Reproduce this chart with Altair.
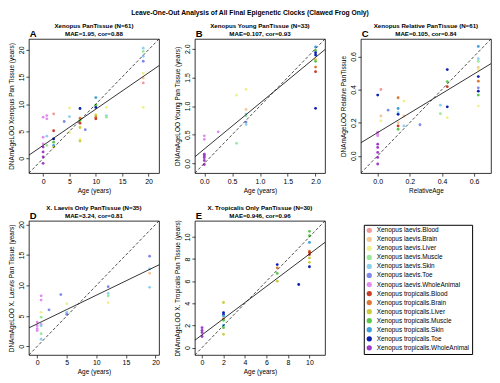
import altair as alt
import pandas as pd

FONT = "Liberation Sans"

GROUPS = [
    "Xenopus laevis.Blood", "Xenopus laevis.Brain", "Xenopus laevis.Liver",
    "Xenopus laevis.Muscle", "Xenopus laevis.Skin", "Xenopus laevis.Toe",
    "Xenopus laevis.WholeAnimal", "Xenopus tropicalis.Blood",
    "Xenopus tropicalis.Brain", "Xenopus tropicalis.Liver",
    "Xenopus tropicalis.Muscle", "Xenopus tropicalis.Skin",
    "Xenopus tropicalis.Toe", "Xenopus tropicalis.WholeAnimal",
]
COLORS = [
    "#F29A9A", "#F5C896", "#F0F08C", "#9BE89B", "#8CD2F0", "#8088EC",
    "#E08CF0", "#C83C28", "#DC7832", "#CDCD3C", "#5AC84B", "#3CA0DC",
    "#0A1EB4", "#A03CC8",
]

# Panel A: Xenopus PanTissue
A_age = [0, 0, 0, 0, 0, 0, 0, 0.7, 0.7, 0.7, 0.7, 2, 2, 2, 2, 2, 2, 4, 5, 5, 5,
         7, 7, 7, 7, 7, 7, 7, 8, 10, 10, 10, 10, 10, 10, 12, 12, 12,
         19, 19, 19, 19, 19, 19, 19, 19]
A_pred = [7.6, 3.9, 2.7, 2.1, 1.2, 0.3, -0.9, 7.9, 7.3, 4.1, 2.4, 8.2, 5.1, 3.6, 3.0, 2.4, 2.1,
          6.8, 9.3, 7.7, 4.8, 9.2, 7.4, 7.0, 6.5, 5.7, 3.5, 3.2, 5.3,
          11.2, 9.8, 9.4, 8.0, 7.6, 7.3, 9.4, 7.9, 7.6,
          20.3, 19.7, 18.8, 17.9, 15.7, 14.8, 13.9, 9.4]
A_grp = [6, 6, 6, 13, 13, 13, 13, 6, 6, 4, 3, 0, 7, 12, 10, 11, 9, 5, 2, 4, 2,
         12, 8, 10, 7, 9, 2, 9, 5, 11, 10, 12, 9, 8, 7, 2, 4, 3,
         4, 3, 4, 5, 2, 1, 0, 2]

# Panel B: Xenopus Young PanTissue
B_age = [0, 0, 0, 0, 0, 0, 0, 0.25, 0.58, 0.58, 0.75, 0.75, 0.75, 0.75, 0.75, 0.75,
         2, 2, 2, 2, 2, 2, 2, 2, 2]
B_pred = [0.48, 0.42, 0.16, 0.13, 0.10, 0.05, -0.02, 0.55, 1.19, 0.35,
          1.29, 0.94, 0.86, 0.83, 0.72, 0.68,
          2.03, 1.97, 1.93, 1.89, 1.81, 1.78, 1.68, 1.60, 0.96]
B_grp = [6, 6, 13, 13, 13, 13, 13, 6, 2, 3, 2, 1, 4, 3, 5, 4,
         11, 10, 12, 12, 9, 10, 8, 7, 12]

# Panel C: Xenopus Relative PanTissue
C_age = [0, 0, 0, 0, 0, 0, 0, 0, 0, 0.02, 0.02, 0.02, 0.065,
         0.127, 0.127, 0.127, 0.127, 0.127, 0.127, 0.127, 0.163, 0.163, 0.163,
         0.263, 0.39, 0.39, 0.433, 0.433, 0.433, 0.433, 0.433,
         0.626, 0.626, 0.626, 0.626, 0.626, 0.626, 0.626, 0.626, 0.626, 0.626, 0.626]
C_pred = [0.366, 0.142, 0.13, 0.12, 0.07, 0.05, 0.02, -0.01, -0.05, 0.40, 0.24, 0.21, 0.275,
          0.35, 0.285, 0.26, 0.25, 0.20, 0.18, 0.16, 0.33, 0.24, 0.18,
          0.187, 0.305, 0.254, 0.52, 0.447, 0.417, 0.295, 0.23,
          0.66, 0.586, 0.57, 0.533, 0.52, 0.478, 0.45, 0.41, 0.39, 0.366, 0.30]
C_grp = [12, 6, 6, 6, 13, 13, 13, 13, 13, 0, 1, 2, 5,
         8, 11, 4, 12, 1, 7, 10, 2, 1, 4,
         5, 4, 3, 12, 10, 7, 12, 2,
         11, 4, 3, 1, 2, 12, 8, 5, 12, 10, 2]

# Panel D: X. Laevis Only PanTissue
D_age = [0, 0, 0, 0, 0.67, 0.67, 0.67, 0.67, 0.67, 0.67, 0.67, 0.67, 2, 4, 5, 5, 5,
         12, 12, 12, 12, 19, 19, 19, 19]
D_pred = [4.0, 3.4, 2.9, 2.6, 8.3, 7.6, 5.6, 4.8, 3.6, 3.4, 2.1, 1.2, 6.0, 8.5, 7.0, 5.6, 5.3,
          9.8, 8.7, 8.3, 7.2, 14.8, 12.7, 12.0, 9.7]
D_grp = [6, 6, 6, 6, 6, 6, 2, 3, 6, 4, 3, 4, 5, 5, 2, 4, 5,
         5, 4, 3, 2, 5, 4, 1, 4]

# Panel E: X. Tropicalis Only PanTissue
E_age = [0, 0, 0, 0, 2, 2, 2, 2, 2, 2, 2, 2, 2, 7, 7, 7, 7, 9,
         10, 10, 10, 10, 10, 10, 10, 10, 10]
E_pred = [1.8, 1.56, 1.36, 1.0, 4.07, 3.16, 3.0, 2.86, 2.6, 2.47, 2.0, 1.8, 1.2,
          7.5, 7.2, 6.7, 6.0, 5.7,
          10.5, 10.1, 9.5, 8.7, 8.6, 8.4, 8.1, 7.7, 7.3]
E_grp = [13, 13, 13, 13, 9, 12, 12, 11, 8, 10, 11, 10, 9,
         12, 8, 10, 9, 12,
         10, 10, 11, 8, 7, 7, 9, 9, 12]

# axis domains (equal x/y limits), fitted lines (intercept, slope)
DOMAINS = {"A": [-2.7, 22.0], "B": [-0.17, 2.17], "C": [-0.105, 0.705],
           "D": [-1.4, 20.6], "E": [-0.67, 11.45]}
FITS = {"A": [2.4, 0.668], "B": [0.25, 0.8], "C": [0.14, 0.59],
        "D": [3.7, 0.47], "E": [1.15, 0.73]}
TICKS = {"A": [0, 5, 10, 15, 20], "B": [0.0, 0.5, 1.0, 1.5, 2.0],
         "C": [0.0, 0.2, 0.4, 0.6], "D": [0, 5, 10, 15, 20],
         "E": [0, 2, 4, 6, 8, 10]}
FORMATS = {"A": "d", "B": ".1f", "C": ".1f", "D": "d", "E": "d"}
TITLES = {
    "A": ["Xenopus PanTissue (N=61)", "MAE=1.95, cor=0.88"],
    "B": ["Xenopus Young PanTissue (N=33)", "MAE=0.107, cor=0.93"],
    "C": ["Xenopus Relative PanTissue (N=61)", "MAE=0.105, cor=0.84"],
    "D": ["X. Laevis Only PanTissue (N=35)", "MAE=3.24, cor=0.81"],
    "E": ["X. Tropicalis Only PanTissue (N=30)", "MAE=0.946, cor=0.96"],
}
XTITLES = {"A": "Age (years)", "B": "Age (years)", "C": "RelativeAge",
           "D": "Age (years)", "E": "Age (years)"}
YTITLES = {
    "A": "DNAmAgeLOO Xenopus Pan Tissue (years)",
    "B": "DNAmAgeLOO Young Pan Tissue (years)",
    "C": "DNAmAgeLOO Relative PanTissue",
    "D": "DNAmAgeLOO X. Laevis Pan Tissue (years)",
    "E": "DNAmAgeLOO X. Tropicalis Pan Tissue (years)",
}
DATA = {"A": (A_age, A_pred, A_grp), "B": (B_age, B_pred, B_grp),
        "C": (C_age, C_pred, C_grp), "D": (D_age, D_pred, D_grp),
        "E": (E_age, E_pred, E_grp)}

W, H = 131, 135


def panel(key):
    ages, preds, grps = DATA[key]
    dom = DOMAINS[key]
    a, b = FITS[key]
    df = pd.DataFrame({"x": ages, "y": preds, "group": [GROUPS[g] for g in grps]})
    ldf = pd.DataFrame({"x": dom, "yid": dom, "yfit": [a + b * v for v in dom]})
    xs = alt.Scale(domain=dom, nice=False, zero=False)
    ys = alt.Scale(domain=dom, nice=False, zero=False)
    xax = alt.Axis(values=TICKS[key], format=FORMATS[key], title=XTITLES[key],
                   labelOverlap=False)
    yax = alt.Axis(values=TICKS[key], format=FORMATS[key], title=YTITLES[key],
                   labelAngle=270, labelAlign="center", labelBaseline="bottom",
                   labelOverlap=False)
    pts = alt.Chart(df).mark_circle(size=8, opacity=1).encode(
        x=alt.X("x:Q", scale=xs, axis=xax),
        y=alt.Y("y:Q", scale=ys, axis=yax),
        color=alt.Color("group:N", scale=alt.Scale(domain=GROUPS, range=COLORS),
                        legend=alt.Legend(title=None, orient="none", legendX=337,
                                          legendY=187, strokeColor="black",
                                          padding=2, symbolType="circle",
                                          symbolSize=28, labelFontSize=6.5,
                                          labelFont=FONT, rowPadding=2.1,
                                          labelColor="black")),
    )
    ident = alt.Chart(ldf).mark_line(color="black", strokeWidth=0.7,
                                     strokeDash=[3, 2], clip=True).encode(
        x=alt.X("x:Q", scale=xs, axis=xax), y=alt.Y("yid:Q", scale=ys, axis=yax))
    fit = alt.Chart(ldf).mark_line(color="black", strokeWidth=0.8, clip=True).encode(
        x=alt.X("x:Q", scale=xs, axis=xax), y=alt.Y("yfit:Q", scale=ys, axis=yax))
    tdf = pd.DataFrame({"letter": [key], "t1": [TITLES[key][0]], "t2": [TITLES[key][1]]})
    base = alt.Chart(tdf)
    lab = base.mark_text(align="left", baseline="middle", fontSize=9.5,
                         fontWeight="bold", font=FONT, color="black").encode(
        x=alt.value(1), y=alt.value(-5), text="letter:N")
    t1 = base.mark_text(align="center", baseline="middle", fontSize=6.2,
                        fontWeight="bold", font=FONT, color="black").encode(
        x=alt.value(W / 2), y=alt.value(-13), text="t1:N")
    t2 = base.mark_text(align="center", baseline="middle", fontSize=6.2,
                        fontWeight="bold", font=FONT, color="black").encode(
        x=alt.value(W / 2), y=alt.value(-5), text="t2:N")
    return alt.layer(pts, ident, fit, lab, t1, t2).properties(width=W, height=H)


chart = alt.concat(
    panel("A"), panel("B"), panel("C"), panel("D"), panel("E"),
    columns=3, spacing={"row": 48, "column": 36}, bounds="flush",
).properties(
    title=alt.TitleParams(
        "Leave-One-Out Analysis of All Final Epigenetic Clocks (Clawed Frog Only)",
        fontSize=6.8, fontWeight="bold", font=FONT, anchor="middle",
        offset=6, color="black"),
    padding=0,
).configure_view(stroke="black", strokeWidth=0.8).configure_axis(
    grid=False, domain=False, tickColor="black", tickSize=3, tickWidth=0.7,
    labelFontSize=7, labelFont=FONT, labelColor="black", labelPadding=1,
    titleFontSize=6.5, titleFont=FONT, titleFontWeight="normal",
    titleColor="black", titlePadding=3,
)

chart.save("out.html", embed_options={"renderer": "svg", "actions": False})
